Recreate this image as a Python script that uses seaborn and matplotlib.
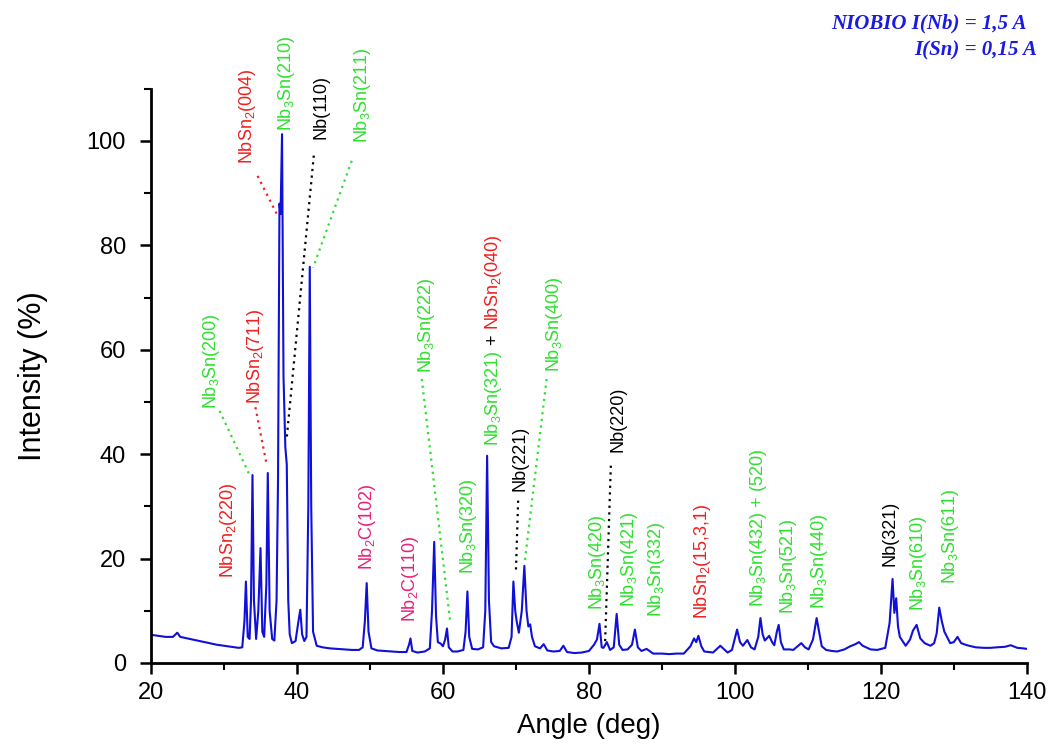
import matplotlib
matplotlib.use("Agg")
import matplotlib.pyplot as plt
import seaborn as sns
import pandas as pd
from matplotlib.ticker import MultipleLocator

# ---------------- data ----------------
angle = [20.0, 21.0, 22.0, 23.0, 23.6, 24.0, 25.0, 26.0, 27.0, 28.0, 29.0, 30.0, 31.0, 32.0,
         32.5, 32.8, 33.0, 33.25, 33.5, 33.7, 33.9, 34.1, 34.4, 34.7, 35.0, 35.25, 35.5, 35.8,
         36.0, 36.25, 36.6, 36.9, 37.2, 37.4, 37.6, 37.75, 37.95, 38.15, 38.4, 38.6, 38.8, 39.0,
         39.3, 39.8, 40.2, 40.45, 40.7, 41.0, 41.3, 41.55, 41.75, 41.95, 42.2, 42.7, 43.5, 44.5,
         45.5, 46.5, 47.5, 48.5, 49.0, 49.3, 49.55, 49.8, 50.2, 51.0, 52.0, 53.0, 54.0, 55.0,
         55.35, 55.55, 55.8, 56.5, 57.5, 58.2, 58.5, 58.8, 59.05, 59.3, 59.7, 60.0, 60.3, 60.55,
         60.8, 61.3, 62.0, 62.8, 63.1, 63.35, 63.6, 64.0, 64.8, 65.5, 65.8, 66.05, 66.3, 66.6,
         67.0, 68.0, 69.0, 69.4, 69.65, 69.9, 70.1, 70.4, 70.8, 71.15, 71.45, 71.7, 71.95, 72.2,
         72.6, 73.3, 73.8, 74.3, 75.1, 76.0, 76.5, 77.0, 78.0, 79.0, 80.0, 80.7, 81.1, 81.45,
         81.75, 82.0, 82.45, 82.9, 83.4, 83.8, 84.15, 84.6, 85.3, 85.9, 86.3, 86.7, 87.2, 87.9,
         88.8, 90.0, 91.0, 92.0, 93.0, 93.9, 94.4, 94.7, 95.0, 95.4, 95.8, 97.0, 98.0, 99.0,
         99.6, 100.05, 100.3, 100.7, 101.1, 101.7, 102.2, 102.7, 103.2, 103.5, 103.8, 104.1,
         104.7, 105.1, 105.4, 105.75, 106.0, 106.3, 106.7, 107.5, 108.0, 108.6, 109.1, 109.6,
         110.1, 110.7, 111.2, 111.6, 111.9, 112.5, 113.3, 114.0, 115.0, 115.8, 116.5, 117.0,
         117.5, 118.6, 119.5, 120.6, 121.2, 121.6, 121.85, 122.1, 122.35, 122.6, 123.4, 124.0,
         124.4, 124.9, 125.4, 126.0, 126.8, 127.3, 127.65, 128.0, 128.35, 128.7, 129.5, 130.0,
         130.5, 131.0, 131.8, 133.0, 134.1, 135.0, 135.9, 137.0, 137.8, 138.7, 139.5, 140.0]
intensity = [5.4, 5.2, 5.0, 5.0, 5.8, 5.0, 4.7, 4.4, 4.1, 3.8, 3.5, 3.3, 3.1, 2.9,
             3.0, 8.0, 15.6, 5.0, 4.6, 12.0, 36.0, 12.0, 4.6, 10.0, 22.0, 6.0, 5.0, 15.0,
             36.4, 10.0, 4.6, 4.3, 12.0, 35.0, 88.0, 86.0, 101.3, 55.0, 41.4, 38.0, 12.0, 5.5,
             3.8, 4.2, 8.0, 10.2, 5.5, 4.2, 5.0, 30.0, 75.9, 30.0, 6.0, 3.3, 3.0, 2.8,
             2.7, 2.6, 2.5, 2.5, 3.0, 8.0, 15.3, 6.0, 2.8, 2.4, 2.3, 2.2, 2.1, 2.1,
             3.5, 4.7, 2.3, 2.0, 2.2, 2.8, 10.0, 23.2, 9.0, 4.0, 3.7, 3.2, 4.5, 6.6,
             3.0, 2.2, 2.2, 2.5, 6.0, 13.7, 5.0, 2.7, 2.6, 3.0, 10.0, 39.7, 12.0, 4.0,
             3.2, 2.8, 2.9, 5.0, 15.6, 10.0, 8.0, 5.8, 10.0, 18.6, 10.0, 7.0, 7.4, 5.0,
             3.2, 2.8, 3.6, 2.4, 2.2, 2.3, 3.3, 2.1, 1.9, 2.0, 2.3, 3.5, 4.5, 7.5,
             3.0, 2.9, 4.0, 2.5, 3.0, 9.4, 3.5, 2.5, 2.6, 3.5, 6.4, 3.0, 2.3, 2.7,
             1.8, 1.8, 1.7, 1.8, 1.8, 3.2, 4.7, 4.0, 5.2, 3.2, 2.2, 2.0, 3.3, 2.0,
             2.5, 5.0, 6.4, 4.0, 3.3, 4.4, 3.0, 2.6, 5.0, 8.6, 5.5, 4.3,
             5.2, 4.0, 3.4, 6.0, 7.3, 4.0, 2.6, 2.6, 2.5, 3.2, 3.8, 3.0,
             2.6, 4.5, 8.6, 5.5, 3.2, 2.5, 2.3, 2.2, 2.6, 3.2, 3.6, 4.0,
             3.3, 2.6, 2.5, 2.9, 7.7, 16.1, 9.6, 12.4, 7.0, 5.0, 3.3, 4.5,
             6.2, 7.3, 4.7, 3.8, 3.3, 3.8, 5.7, 10.6, 8.0, 6.0, 3.8, 4.0,
             5.0, 3.8, 3.4, 3.0, 2.9, 2.9, 3.0, 3.1, 3.4, 2.9, 2.8, 2.7]

# peak labels: text, angle, bottom of label (intensity units), colour key
label_texts = [r"NbSn$_2$(220)", r"Nb$_3$Sn(200)", r"NbSn$_2$(711)", r"NbSn$_2$(004)",
               r"Nb$_3$Sn(210)", "Nb(110)", r"Nb$_3$Sn(211)", r"Nb$_2$C(102)",
               r"Nb$_2$C(110)", r"Nb$_3$Sn(222)", r"Nb$_3$Sn(320)", "Nb(221)",
               r"Nb$_3$Sn(400)", "Nb(220)", r"Nb$_3$Sn(420)", r"Nb$_3$Sn(421)",
               r"Nb$_3$Sn(332)", r"NbSn$_2$(15,3,1)", r"Nb$_3$Sn(432) + (520)",
               r"Nb$_3$Sn(521)", r"Nb$_3$Sn(440)", "Nb(321)", r"Nb$_3$Sn(610)",
               r"Nb$_3$Sn(611)"]
label_x = [30.6, 28.3, 34.3, 33.2, 38.5, 43.3, 49.0, 49.7, 55.5, 57.7, 63.5, 70.5,
           75.3, 84.0, 81.2, 85.5, 89.2, 95.5, 103.2, 107.4, 111.6, 121.3, 125.2, 129.6]
label_y = [16.3, 48.7, 49.6, 95.6, 101.9, 100.4, 99.6, 17.8, 7.9, 55.6, 17.0, 33.0,
           55.7, 40.4, 10.2, 10.7, 8.9, 8.4, 10.7, 9.4, 10.3, 18.6, 10.0, 15.1]
label_kind = ["r", "g", "r", "r", "g", "k", "g", "m", "m", "g", "g", "k",
              "g", "k", "g", "g", "g", "r", "g", "g", "g", "k", "g", "g"]

# combined label Nb3Sn(321) + NbSn2(040)
combo_parts = [r"Nb$_3$Sn(321)", " + ", r"NbSn$_2$(040)"]
combo_kind = ["g", "k", "r"]
combo_x, combo_y = 66.9, 41.6

# dotted leader lines: (x0, y0, x1, y1, colour key)
leaders = [(29.4, 48.3, 33.5, 36.0, "g"), (34.3, 49.0, 35.8, 38.3, "r"),
           (34.6, 93.3, 37.2, 86.1, "r"), (42.3, 97.2, 38.6, 43.2, "k"),
           (47.5, 96.2, 42.2, 75.7, "g"), (57.1, 54.4, 61.0, 7.8, "g"),
           (70.3, 31.1, 70.0, 17.7, "k"), (74.2, 54.4, 71.2, 19.3, "g"),
           (83.0, 37.8, 82.2, 3.3, "k")]

colors = {"g": "#2ee02e", "r": "#ee2020", "m": "#e8207a", "k": "#000000"}

# ---------------- style ----------------
sns.set_style("ticks")
plt.rcParams["font.family"] = ["Liberation Sans", "DejaVu Sans"]
plt.rcParams["mathtext.fontset"] = "custom"
plt.rcParams["mathtext.rm"] = "Liberation Sans"
plt.rcParams["mathtext.it"] = "Liberation Sans:italic"
plt.rcParams["mathtext.bf"] = "Liberation Sans:bold"
plt.rcParams["mathtext.default"] = "regular"
plt.rcParams["text.color"] = "black"
plt.rcParams["axes.labelcolor"] = "black"
plt.rcParams["xtick.color"] = "black"
plt.rcParams["ytick.color"] = "black"

fig = plt.figure(figsize=(10.51, 7.51), dpi=100)
ax = fig.add_axes([0.1437, 0.1172, 0.977 - 0.1437, 0.8818 - 0.1172])

df = pd.DataFrame({"Angle": angle, "Intensity": intensity})
sns.lineplot(data=df, x="Angle", y="Intensity", ax=ax, color="#1010d8", linewidth=1.5)

ax.set_xlim(20, 140)
ax.set_ylim(0, 110)
ax.xaxis.set_major_locator(MultipleLocator(20))
ax.xaxis.set_minor_locator(MultipleLocator(10))
ax.yaxis.set_major_locator(MultipleLocator(20))
ax.yaxis.set_minor_locator(MultipleLocator(10))
ax.tick_params(which="major", length=8, width=1.8, labelsize=17, direction="out",
               color="black", labelcolor="black")
ax.tick_params(axis="y", which="major", pad=10)
ax.tick_params(axis="x", which="major", pad=6)
ax.tick_params(which="minor", length=5, width=1.5, direction="out", color="black")
sns.despine(ax=ax)
for s in ("left", "bottom"):
    ax.spines[s].set_linewidth(2.0)
    ax.spines[s].set_color("black")
ax.set_xlabel("Angle (deg)", fontsize=20, labelpad=6, color="black")
ax.set_ylabel("Intensity (%)", fontsize=22, labelpad=28, color="black")

for x0, y0, x1, y1, k in leaders:
    ax.plot([x0, x1], [y0, y1], linestyle=(0, (1, 2)), color=colors[k], linewidth=1.6)

for t, x, y, k in zip(label_texts, label_x, label_y, label_kind):
    ax.text(x, y, t, rotation=90, ha="center", va="bottom", fontsize=13, color=colors[k])

prev = ax.text(combo_x, combo_y, combo_parts[0], rotation=90, ha="center", va="bottom",
               fontsize=13, color=colors[combo_kind[0]])
for t, k in zip(combo_parts[1:], combo_kind[1:]):
    prev = ax.annotate(t, xy=(0.5, 1.0), xycoords=prev, rotation=90, ha="center", va="bottom",
                       fontsize=13, color=colors[k])

fig.text(1027 / 1051, 1 - 23 / 751, "NIOBIO I(Nb) = 1,5 A", ha="right", va="center",
         fontsize=15, fontweight="bold", fontstyle="italic", family="Liberation Serif", color="#1a1ae0")
fig.text(1037 / 1051, 1 - 50 / 751, "I(Sn) = 0,15 A", ha="right", va="center",
         fontsize=15, fontweight="bold", fontstyle="italic", family="Liberation Serif", color="#1a1ae0")

fig.savefig("out.png", dpi=100)
